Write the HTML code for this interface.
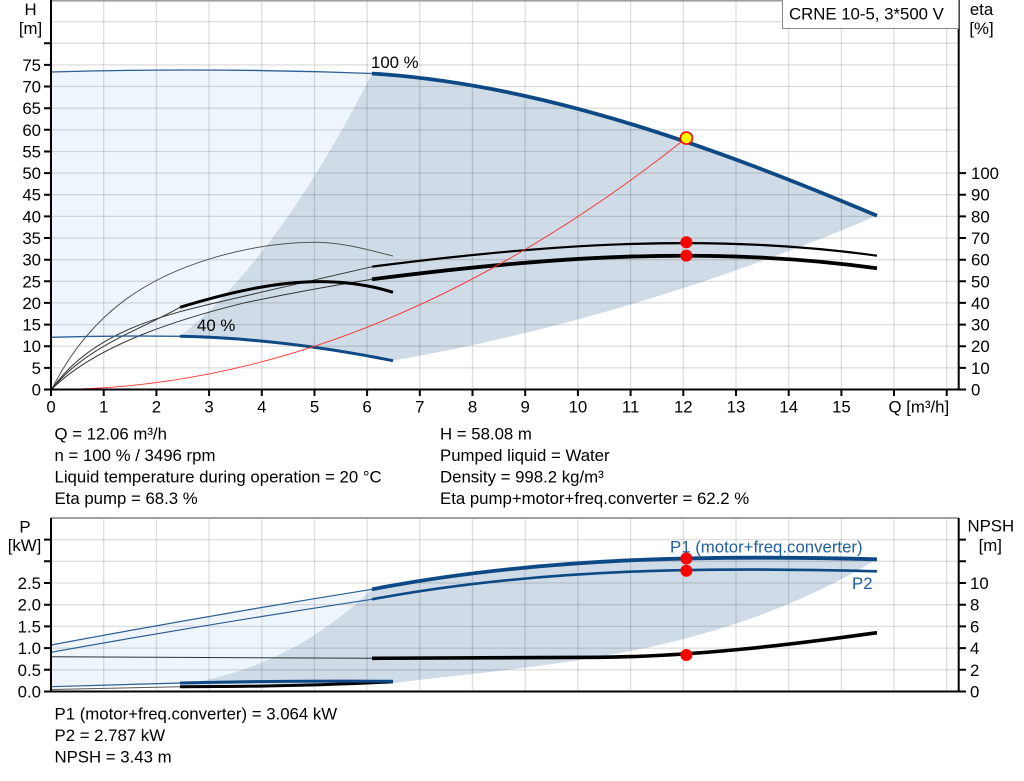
<!DOCTYPE html>
<html><head><meta charset="utf-8"><style>
html,body{margin:0;padding:0;background:#fff;}
svg{display:block;}
</style></head><body>
<svg width="1024" height="781" viewBox="0 0 1024 781" xmlns="http://www.w3.org/2000/svg" font-family="'Liberation Sans', Arial, sans-serif" font-size="16.8" fill="#000">
<rect width="1024" height="781" fill="#fff"/>

<!-- ===== TOP CHART ===== -->
<path d="M51,72 Q210,67.3 372,73.5 Q278.1,258.4 180,336.3 Q115,335.5 51,337.3 Z" fill="#eef5fc"/>
<path d="M372,73.5 C540,84 709,145 877,215.7 Q633.3,318.7 393,360.7 Q281,338.3 180,336.3 Q278.1,258.4 372,73.5 Z" fill="#cfdbe6"/>

<g stroke="#000" stroke-opacity="0.13" stroke-width="1.3" fill="none">
<path d="M103.7,0V389.5M156.4,0V389.5M209.1,0V389.5M261.8,0V389.5M314.5,0V389.5M367.1,0V389.5M419.8,0V389.5M472.5,0V389.5M525.2,0V389.5M577.9,0V389.5M630.6,0V389.5M683.3,0V389.5M736,0V389.5M788.7,0V389.5M841.4,0V389.5M894,0V389.5M946.7,0V389.5"/>
<path d="M51,367.9H958.7M51,346.2H958.7M51,324.6H958.7M51,302.9H958.7M51,281.3H958.7M51,259.7H958.7M51,238H958.7M51,216.4H958.7M51,194.7H958.7M51,173.1H958.7M51,151.5H958.7M51,129.8H958.7M51,108.2H958.7M51,86.5H958.7M51,64.9H958.7M51,43.3H958.7M51,21.6H958.7"/>
</g>
<line x1="51" y1="0.8" x2="958.7" y2="0.8" stroke="#a0a0a0" stroke-width="1.6"/>

<!-- eta curves thin -->
<g fill="none" stroke="#333" stroke-width="1">
<path d="M51.7,389.3 C91.7,309.3 151.7,276.3 211.7,258.3 C251.7,246.3 285,242.3 315,242.3 C345,242.3 373,251.4 393,256" stroke="#555"/>
<path d="M51.7,389.3 C96.7,325 180,311.6 245,296 L372,266.7"/>
<path d="M51.7,389.3 C86.7,346 140,330 180,307.3"/>
<path d="M51.7,389.3 C96.7,344.3 180,318.7 245,302.7 Q308.5,289.5 372,279.3"/>
</g>
<path d="M180,307.3 C251,286 322,270 393,292.3" fill="none" stroke="#000" stroke-width="3"/>
<path d="M372,266.7 C540,244.9 709,232.2 877,255.7" fill="none" stroke="#000" stroke-width="2.2"/>
<path d="M372,279.3 C540,257.5 709,244.8 877,268.3" fill="none" stroke="#000" stroke-width="3.8"/>

<!-- H curves -->
<path d="M51,72 Q210,67.3 372,73.5" fill="none" stroke="#2c5f92" stroke-width="1.3"/>
<path d="M372,73.5 C540,84 709,145 877,215.7" fill="none" stroke="#0d4a85" stroke-width="3.8"/>
<path d="M51,337.3 Q115,335.5 180,336.3" fill="none" stroke="#2c5f92" stroke-width="1.3"/>
<path d="M180,336.3 Q281,338.3 393,360.7" fill="none" stroke="#0d4a85" stroke-width="3"/>

<path d="M51,389.5 Q368.7,389.5 686.4,138" fill="none" stroke="#ff3030" stroke-width="0.9"/>

<circle cx="686.4" cy="242.2" r="6" fill="#ff0000"/>
<circle cx="686.4" cy="255.6" r="6" fill="#ff0000"/>
<circle cx="686.4" cy="138.1" r="6" fill="#ffff00" stroke="#ff0000" stroke-width="1.6"/>

<text x="371" y="68">100 %</text>
<text x="197" y="331">40 %</text>

<g stroke="#000" stroke-width="2" fill="none">
<line x1="51" y1="0" x2="51" y2="390.5"/>
<line x1="958.7" y1="0" x2="958.7" y2="390.5"/>
<line x1="44" y1="389.5" x2="966" y2="389.5"/>
<path d="M44,367.9H51M44,346.2H51M44,324.6H51M44,302.9H51M44,281.3H51M44,259.7H51M44,238H51M44,216.4H51M44,194.7H51M44,173.1H51M44,151.5H51M44,129.8H51M44,108.2H51M44,86.5H51M44,64.9H51M44,43.3H51"/>
<path d="M958.7,367.9H966M958.7,346.2H966M958.7,324.6H966M958.7,302.9H966M958.7,281.3H966M958.7,259.7H966M958.7,238H966M958.7,216.4H966M958.7,194.7H966M958.7,173.1H966"/>
<path d="M51,389.5V396M103.7,389.5V396M156.4,389.5V396M209.1,389.5V396M261.8,389.5V396M314.5,389.5V396M367.1,389.5V396M419.8,389.5V396M472.5,389.5V396M525.2,389.5V396M577.9,389.5V396M630.6,389.5V396M683.3,389.5V396M736,389.5V396M788.7,389.5V396M841.4,389.5V396M894,389.5V396M946.7,389.5V396"/>
</g>

<g text-anchor="end">
<text x="41" y="395.5">0</text><text x="41" y="373.9">5</text><text x="41" y="352.2">10</text><text x="41" y="330.6">15</text>
<text x="41" y="308.9">20</text><text x="41" y="287.3">25</text><text x="41" y="265.7">30</text><text x="41" y="244">35</text>
<text x="41" y="222.4">40</text><text x="41" y="200.7">45</text><text x="41" y="179.1">50</text><text x="41" y="157.5">55</text>
<text x="41" y="135.8">60</text><text x="41" y="114.2">65</text><text x="41" y="92.5">70</text><text x="41" y="70.9">75</text>
</g>
<g text-anchor="start">
<text x="971" y="395.5">0</text><text x="971" y="373.9">10</text><text x="971" y="352.2">20</text><text x="971" y="330.6">30</text>
<text x="971" y="308.9">40</text><text x="971" y="287.3">50</text><text x="971" y="265.7">60</text><text x="971" y="244">70</text>
<text x="971" y="222.4">80</text><text x="971" y="200.7">90</text><text x="971" y="179.1">100</text>
</g>
<g text-anchor="middle">
<text x="51" y="412.5">0</text><text x="103.7" y="412.5">1</text><text x="156.4" y="412.5">2</text><text x="209.1" y="412.5">3</text>
<text x="261.8" y="412.5">4</text><text x="314.5" y="412.5">5</text><text x="367.1" y="412.5">6</text><text x="419.8" y="412.5">7</text>
<text x="472.5" y="412.5">8</text><text x="525.2" y="412.5">9</text><text x="577.9" y="412.5">10</text><text x="630.6" y="412.5">11</text>
<text x="683.3" y="412.5">12</text><text x="736" y="412.5">13</text><text x="788.7" y="412.5">14</text><text x="841.4" y="412.5">15</text>
<text x="30.5" y="15">H</text><text x="30.5" y="34">[m]</text>
<text x="981.5" y="15">eta</text><text x="981.5" y="34">[%]</text>
</g>
<text x="888.5" y="412.5">Q [m³/h]</text>

<rect x="782.5" y="-1" width="176" height="29.5" fill="#fff" stroke="#8a8a8a" stroke-width="1"/>
<text x="789" y="19.5">CRNE 10-5, 3*500 V</text>

<text x="54.5" y="439.5">Q = 12.06 m³/h</text>
<text x="54.5" y="461">n = 100 % / 3496 rpm</text>
<text x="54.5" y="482.5">Liquid temperature during operation = 20 °C</text>
<text x="54.5" y="504">Eta pump = 68.3 %</text>
<text x="440" y="439.5">H = 58.08 m</text>
<text x="440" y="461">Pumped liquid = Water</text>
<text x="440" y="482.5">Density = 998.2 kg/m³</text>
<text x="440" y="504">Eta pump+motor+freq.converter = 62.2 %</text>

<!-- ===== BOTTOM CHART ===== -->
<path d="M51,645 Q211.5,615 372,589.3 C308,650.4 244,675 180,684.9 L51,686.7 Z" fill="#eef5fc"/>
<path d="M372,589.3 C540,557 709,555 877,559.3 C716,655.9 554,663.7 393,683 L180,684.9 C244,675 308,650.4 372,589.3 Z" fill="#cfdbe6"/>

<g stroke="#000" stroke-opacity="0.13" stroke-width="1.3" fill="none">
<path d="M103.7,518V691.5M156.4,518V691.5M209.1,518V691.5M261.8,518V691.5M314.5,518V691.5M367.1,518V691.5M419.8,518V691.5M472.5,518V691.5M525.2,518V691.5M577.9,518V691.5M630.6,518V691.5M683.3,518V691.5M736,518V691.5M788.7,518V691.5M841.4,518V691.5M894,518V691.5M946.7,518V691.5"/>
<path d="M51,669.8H958.7M51,648.1H958.7M51,626.4H958.7M51,604.7H958.7M51,583H958.7M51,561.3H958.7M51,539.6H958.7"/>
</g>
<line x1="51" y1="518" x2="958.7" y2="518" stroke="#a0a0a0" stroke-width="2"/>

<path d="M51,645 Q211.5,615 372,589.3" fill="none" stroke="#2c5f92" stroke-width="1.2"/>
<path d="M51,652.3 Q211.5,623.5 372,599.3" fill="none" stroke="#2c5f92" stroke-width="1.2"/>
<path d="M372,589.3 C540,557 709,555 877,559.3" fill="none" stroke="#0d4a85" stroke-width="3.8"/>
<path d="M372,599.3 C540,568 709,567 877,571.3" fill="none" stroke="#0d4a85" stroke-width="2.6"/>
<path d="M51,656.7 L372,658.3" fill="none" stroke="#333" stroke-width="1"/>
<path d="M372,658.3 L600,657.3 C692,656.4 785,645.6 877,632.7" fill="none" stroke="#000" stroke-width="3.6"/>
<path d="M51,686.7 L180,683" fill="none" stroke="#2c5f92" stroke-width="1.2"/>
<path d="M51,689.5 L180,686.7" fill="none" stroke="#555" stroke-width="1"/>
<path d="M180,686.7 Q300,686.7 393,681.7" fill="none" stroke="#000" stroke-width="3"/>
<path d="M180,683 Q290,680.5 393,681.3" fill="none" stroke="#0d4a85" stroke-width="3"/>

<circle cx="686.4" cy="558.5" r="6" fill="#ff0000"/>
<circle cx="686.4" cy="570.7" r="6" fill="#ff0000"/>
<circle cx="686.4" cy="655" r="6" fill="#ff0000"/>

<text x="670" y="552.5" fill="#215f9e">P1 (motor+freq.converter)</text>
<text x="852" y="589" fill="#215f9e">P2</text>

<g stroke="#000" stroke-width="2" fill="none">
<line x1="51" y1="518" x2="51" y2="692.5"/>
<line x1="958.7" y1="518" x2="958.7" y2="692.5"/>
<line x1="44" y1="691.5" x2="966" y2="691.5"/>
<path d="M44,669.8H51M44,648.1H51M44,626.4H51M44,604.7H51M44,583H51M44,561.3H51M44,539.6H51"/>
<path d="M958.7,669.8H966M958.7,648.1H966M958.7,626.4H966M958.7,604.7H966M958.7,583H966M958.7,561.3H966M958.7,539.6H966"/>
</g>
<g text-anchor="end">
<text x="41" y="697.5">0.0</text><text x="41" y="675.8">0.5</text><text x="41" y="654.1">1.0</text>
<text x="41" y="632.4">1.5</text><text x="41" y="610.7">2.0</text><text x="41" y="589">2.5</text>
</g>
<g text-anchor="start">
<text x="970" y="697.5">0</text><text x="970" y="675.8">2</text><text x="970" y="654.1">4</text>
<text x="970" y="632.4">6</text><text x="970" y="610.7">8</text><text x="970" y="589">10</text>
</g>
<g text-anchor="middle">
<text x="25" y="532.5">P</text><text x="24.5" y="551">[kW]</text>
<text x="990.8" y="531.7">NPSH</text><text x="990.3" y="551">[m]</text>
</g>

<text x="54.5" y="719.5">P1 (motor+freq.converter) = 3.064 kW</text>
<text x="54.5" y="741">P2 = 2.787 kW</text>
<text x="54.5" y="762.5">NPSH = 3.43 m</text>
</svg>
</body></html>
